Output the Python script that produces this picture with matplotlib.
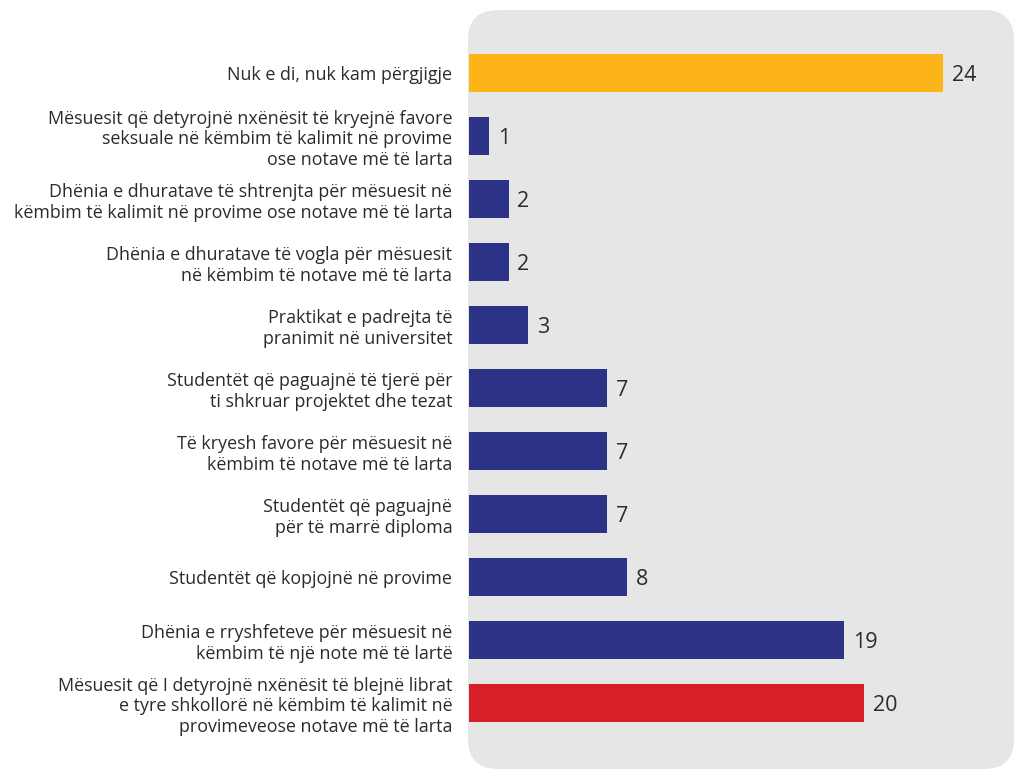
import matplotlib.pyplot as plt
from matplotlib.patches import FancyBboxPatch

plt.rcParams["font.family"] = ["Open Sans", "DejaVu Sans"]

labels = [
    "Nuk e di, nuk kam përgjigje",
    "Mësuesit që detyrojnë nxënësit të kryejnë favore\nseksuale në këmbim të kalimit në provime\nose notave më të larta",
    "Dhënia e dhuratave të shtrenjta për mësuesit në\nkëmbim të kalimit në provime ose notave më të larta",
    "Dhënia e dhuratave të vogla për mësuesit\nnë këmbim të notave më të larta",
    "Praktikat e padrejta të\npranimit në universitet",
    "Studentët që paguajnë të tjerë për\nti shkruar projektet dhe tezat",
    "Të kryesh favore për mësuesit në\nkëmbim të notave më të larta",
    "Studentët që paguajnë\npër të marrë diploma",
    "Studentët që kopjojnë në provime",
    "Dhënia e rryshfeteve për mësuesit në\nkëmbim të një note më të lartë",
    "Mësuesit që I detyrojnë nxënësit të blejnë librat\ne tyre shkollorë në këmbim të kalimit në\nprovimeveose notave më të larta",
]
values = [24, 1, 2, 2, 3, 7, 7, 7, 8, 19, 20]

YELLOW = "#FDB418"
NAVY = "#2C3387"
RED = "#D71F28"
colors = [YELLOW] + [NAVY] * 9 + [RED]

W, H = 1015, 770
fig = plt.figure(figsize=(W / 100, H / 100), dpi=100)

# rounded grey panel behind the bars (pixel coordinates)
panel = FancyBboxPatch(
    (468, 1), W - 468 - 1, H - 11,
    boxstyle="round,pad=0,rounding_size=30",
    transform=None, facecolor="#E6E6E6", edgecolor="none", zorder=-5,
)
fig.patches.append(panel)

ax = fig.add_axes([469 / W, 0, (W - 469) / W, 1])
ax.patch.set_alpha(0)

pos = list(range(len(values)))
ax.barh(pos, values, height=0.59, color=colors, zorder=2)

px_per_unit = 19.75
ax.set_xlim(0, (W - 469) / px_per_unit)
ax.set_ylim((H - 73) / 63, -73 / 63)

for y, v in zip(pos, values):
    ax.text(v + 0.45, y, str(v), va="center_baseline", ha="left",
            fontsize=15.5, color="#2b2b2b")

ax.set_yticks(pos)
ax.set_yticklabels(labels, fontsize=12.9, color="#2b2b2b", linespacing=1.2)
ax.tick_params(axis="y", length=0, pad=12)
ax.set_xticks([])
for s in ax.spines.values():
    s.set_visible(False)

fig.savefig("out.png", dpi=100)
